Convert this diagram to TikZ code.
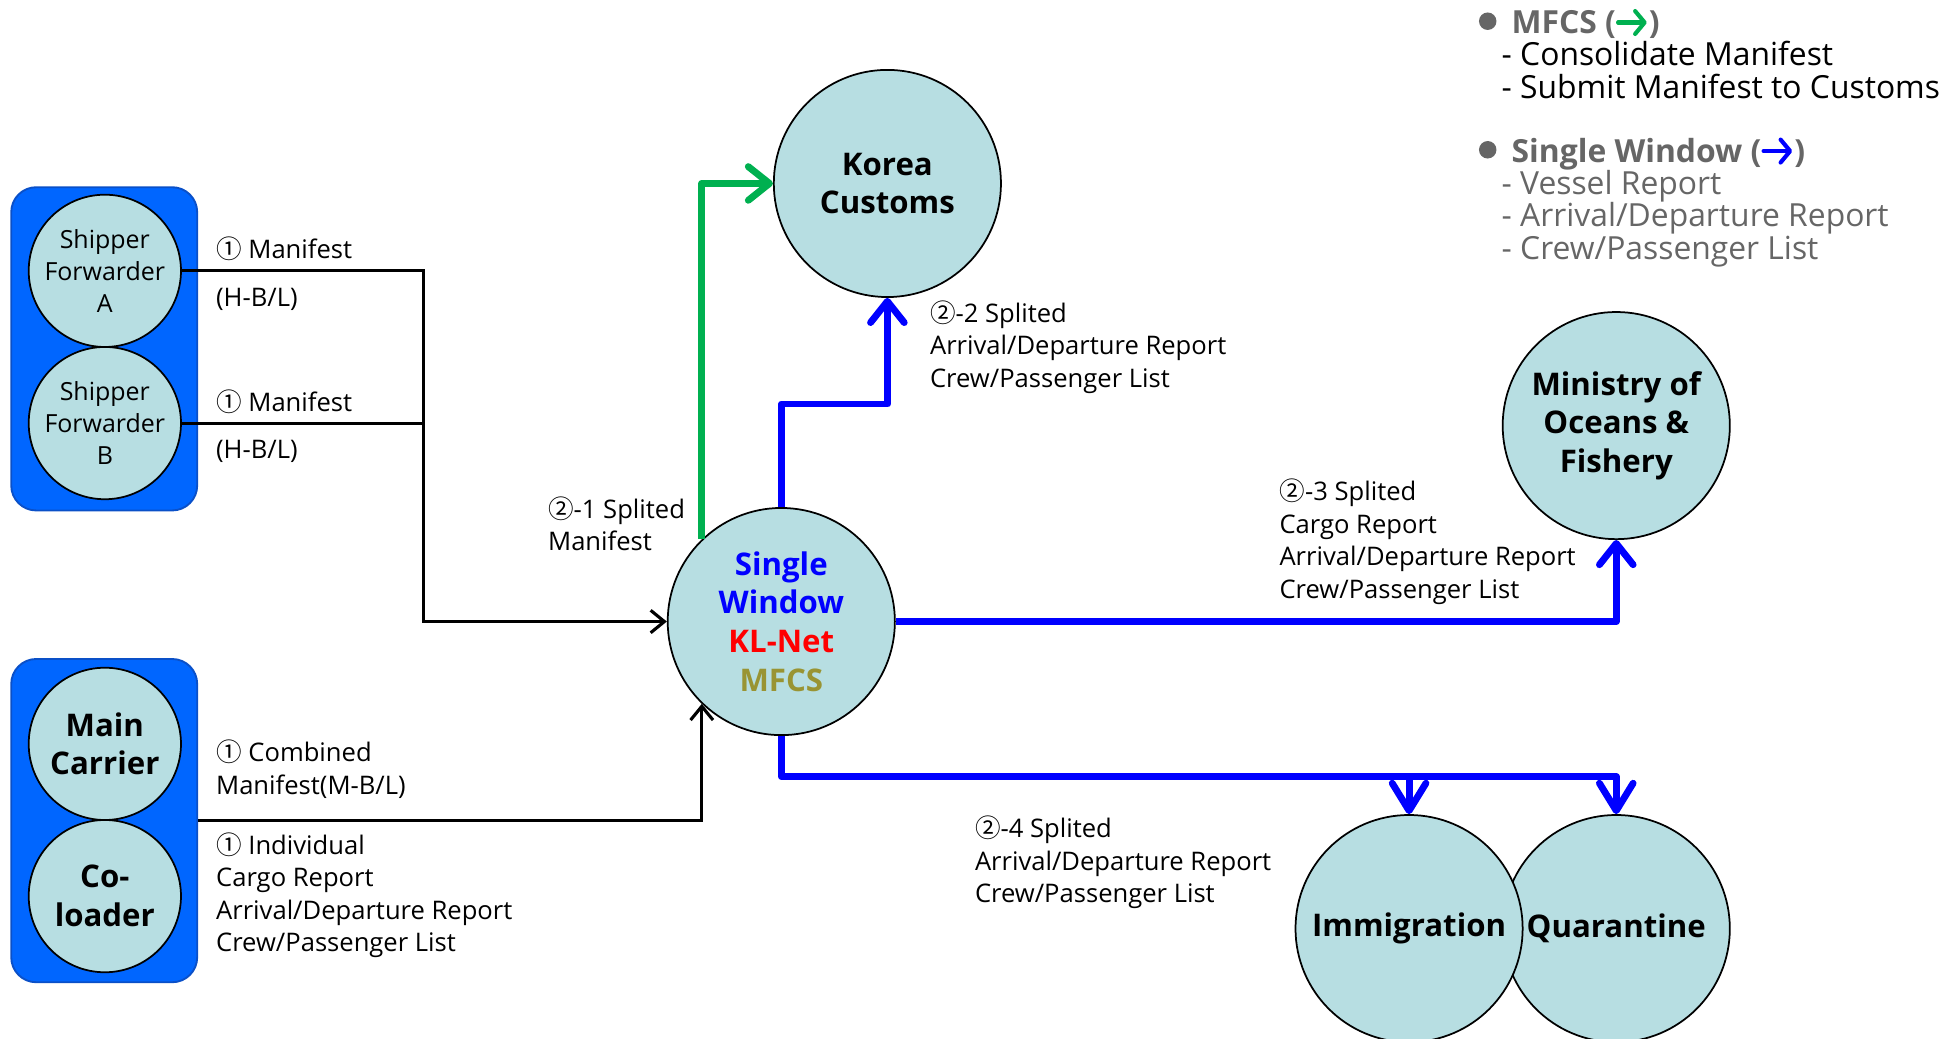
\documentclass[tikz,border=0pt]{standalone}
\usepackage{fontspec}
\setmainfont{Open Sans}
\newfontfamily\cjkfont{Noto Sans CJK KR}
\usetikzlibrary{arrows.meta}
\definecolor{circfill}{RGB}{183,222,226}
\definecolor{boxblue}{RGB}{0,102,255}
\definecolor{boxedge}{RGB}{10,80,200}
\definecolor{swblue}{RGB}{0,0,255}
\definecolor{mygreen}{RGB}{0,176,80}
\definecolor{myred}{RGB}{255,0,0}
\definecolor{myolive}{RGB}{153,148,51}
\definecolor{mygray}{RGB}{102,102,102}
\newcommand\cnum[1]{{\cjkfont #1}}
\newcommand\nolsl{\lineskiplimit=-100pt\relax}
\newcommand\legarrow[1]{\tikz[baseline=-0.36em]\draw[#1, line width=0.13em, line cap=round, -{Straight Barb[length=0.3em,width=0.72em,round]}] (0,0) -- (0.9em,0);}
\begin{document}
\begin{tikzpicture}[x=1pt,y=-1pt,
  circ/.style={circle, draw=black, line width=1.4pt, fill=circfill, minimum size=182pt, inner sep=0pt, align=center, font=\fontsize{25}{31}\selectfont\bfseries\nolsl},
  smallcirc/.style={circ, minimum size=122pt},
  shiptext/.style={font=\fontsize{20}{25.5}\selectfont\nolsl},
  groupbox/.style={draw=boxedge, line width=1.5pt, fill=boxblue, rounded corners=20pt, minimum width=149pt, minimum height=259pt, inner sep=0pt},
  lbl/.style={anchor=north west, inner sep=0pt, align=left, font=\fontsize{20.5}{26}\selectfont\nolsl},
  leg/.style={anchor=north west, inner sep=0pt, align=left, font=\fontsize{25.5}{26}\selectfont\nolsl},
  blk/.style={draw=black, line width=2.5pt},
  bline/.style={draw=swblue, line width=5.5pt, line join=round},
  gline/.style={draw=mygreen, line width=5.5pt, line join=round},
  btip/.tip={Straight Barb[length=11pt, width=18pt]},
  ctip/.tip={Straight Barb[length=17pt, width=27pt, round]},
  dtip/.tip={Straight Barb[length=22pt, width=27pt, round]}
]
\useasboundingbox (0,0) rectangle (1560,832);

% group boxes
\node[groupbox] (g1) at (83.5,279.5) {};
\node[groupbox] (g2) at (83.5,657.5) {};

% small circles
\node[smallcirc, shiptext] (sa) at (84,217) {Shipper\\Forwarder\\A};
\node[smallcirc, shiptext] (sb) at (84,339) {Shipper\\Forwarder\\B};
\node[smallcirc] (mc) at (84,596) {Main\\Carrier};
\node[smallcirc] (co) at (84,718) {Co-\\loader};

% big circles
\node[circ] (kc) at (711,147) {Korea\\Customs};
\node[circ] (sw) at (626,498) {\textcolor{swblue}{Single}\\\textcolor{swblue}{Window}\\\textcolor{myred}{KL-Net}\\\textcolor{myolive}{MFCS}};
\node[circ] (mof) at (1295,341) {Ministry of\\Oceans \&\\Fishery};
\node[circ] (qua) at (1295,744) {Quarantine};
\node[circ] (imm) at (1129,744) {Immigration};

% coordinates
\coordinate (jn) at ([xshift=-195pt]sw.west);
\coordinate (kcturn) at ([yshift=-85pt]kc.south);
\coordinate (qturn) at ([yshift=30pt]qua.north);

% black connectors
\draw[blk, -{btip}] (sa.east) -| (jn) -- (sw.west);
\draw[blk] (sb.east) -- (sb.east -| jn);
\draw[blk, -{btip}] (g2.east) -| (sw.226);

% green connector
\draw[gline, -{ctip}] (sw.134) |- (kc.west);

% blue connectors
\draw[bline, -{ctip}] (sw.north) |- (kcturn) -- (kc.south);
\draw[bline, -{ctip}] (sw.east) -| (mof.south);
\draw[bline, -{dtip}] (sw.south) |- (qturn) -- (qua.north);
\draw[bline, -{dtip}] (imm.north |- qturn) -- (imm.north);

% labels
\node[lbl] (lma1) at (173,189) {\strut\cnum{①} Manifest};
\node[lbl] (lhb1) at (173,227) {\strut(H-B/L)};
\node[lbl] (lma2) at (173,311) {\strut\cnum{①} Manifest};
\node[lbl] (lhb2) at (173,349) {\strut(H-B/L)};
\node[lbl] (lcomb) at (173,592) {\strut\cnum{①} Combined\\Manifest(M-B/L)};
\node[lbl] (lind) at (173,666) {\strut\cnum{①} Individual\\Cargo Report\\Arrival/Departure Report\\Crew/Passenger List};
\node[lbl] (l21) at (439,397) {\strut\cnum{②}-1 Splited\\Manifest};
\node[lbl] (l22) at (745,240) {\strut\cnum{②}-2 Splited\\Arrival/Departure Report\\Crew/Passenger List};
\node[lbl] (l23) at (1025,383) {\strut\cnum{②}-3 Splited\\Cargo Report\\Arrival/Departure Report\\Crew/Passenger List};
\node[lbl] (l24) at (781,653) {\strut\cnum{②}-4 Splited\\Arrival/Departure Report\\Crew/Passenger List};

% legend
\fill[mygray] (1192,17) circle (7pt);
\fill[mygray] (1192,120) circle (7pt);
\node[leg, text=mygray] (lgh1) at (1211,7) {\strut\bfseries MFCS (\legarrow{mygreen})};
\node[leg] (lgs1) at (1203,33) {\strut- Consolidate Manifest\\- Submit Manifest to Customs};
\node[leg, text=mygray] (lgh2) at (1211,110) {\strut\bfseries Single Window (\legarrow{swblue})};
\node[leg, text=mygray] (lgs2) at (1203,136) {\strut- Vessel Report\\- Arrival/Departure Report\\- Crew/Passenger List};
\end{tikzpicture}
\end{document}
